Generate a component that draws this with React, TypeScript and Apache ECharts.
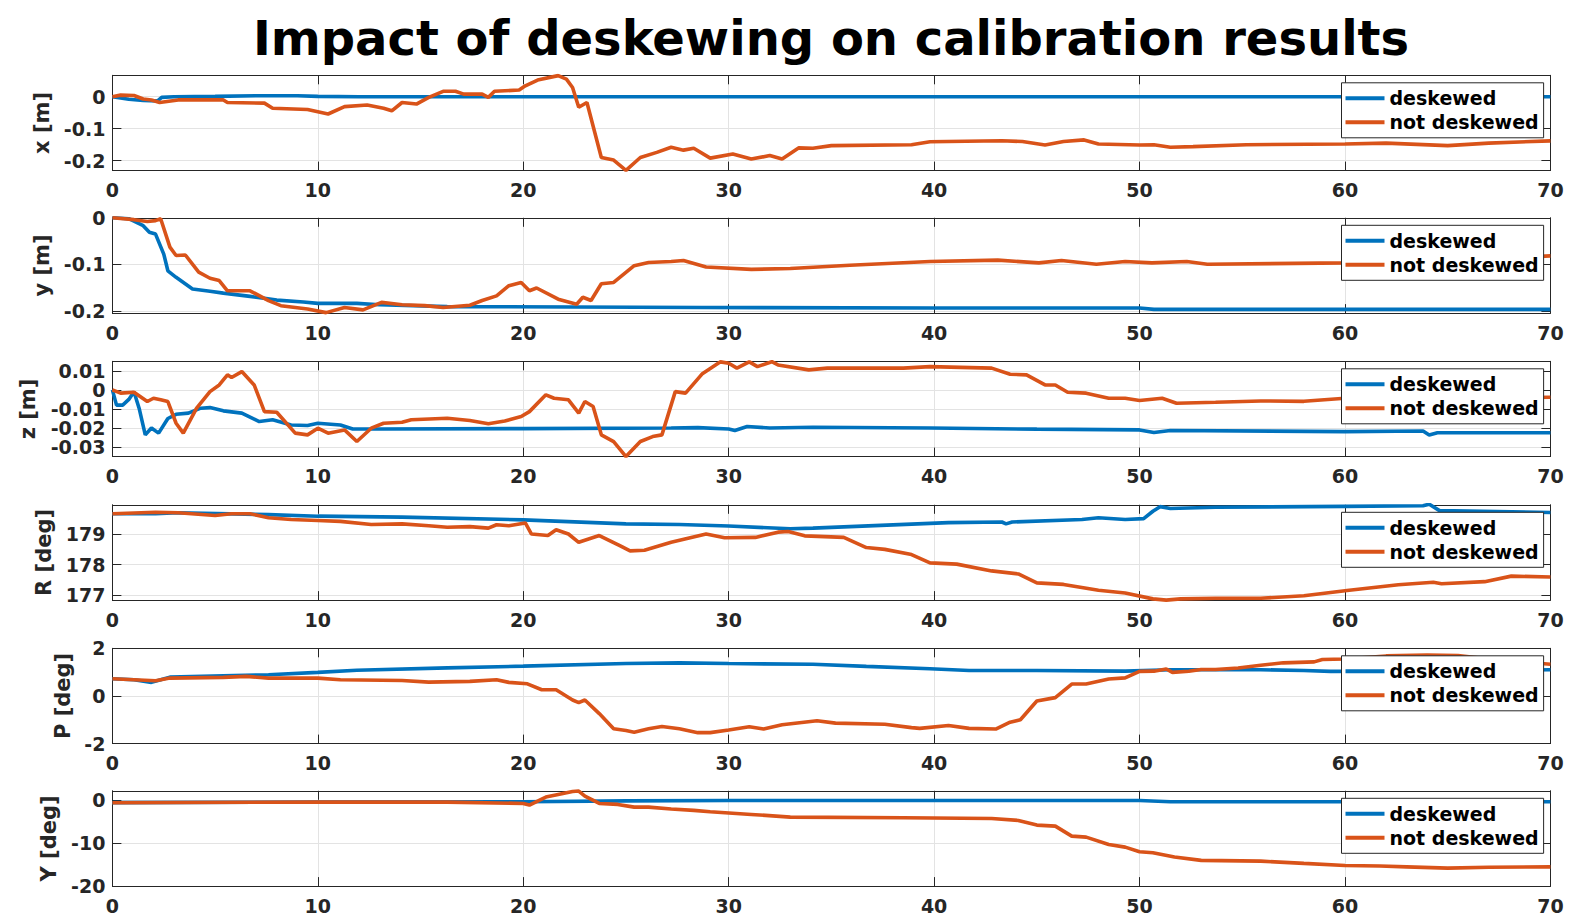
import React, { useEffect, useRef } from "react";
import * as echarts from "echarts";

const TITLE = "Impact of deskewing on calibration results";
const SERIES_NAMES = ["deskewed", "not deskewed"];
const Y_NAMES = ["x [m]", "y [m]", "z [m]", "R [deg]", "P [deg]", "Y [deg]"];
const Y_TICKS = [
  [-0.2, -0.1, 0],
  [-0.2, -0.1, 0],
  [-0.03, -0.02, -0.01, 0, 0.01],
  [177, 178, 179],
  [-2, 0, 2],
  [-20, -10, 0],
];
const Y_MIN = [-0.231, -0.205, -0.035, 176.85, -2, -20];
const Y_MAX = [0.067, 0, 0.015, 179.95, 2, 2.25];
const T_MIN = 0;
const T_MAX = 70;
const T_STEP = 10;

const X_DESK: [number, number][] = [
  [0, 0], [0.8, -0.008], [1.5, -0.012], [2.2, -0.013], [2.4, -0.002], [3, 0], [5, 0.001],
  [7, 0.003], [9, 0.003], [10, 0.001], [12, 0], [15, 0], [20, 0], [30, 0], [40, 0],
  [50, 0], [60, 0], [70, 0],
];
const X_NOT: [number, number][] = [
  [0, 0], [0.4, 0.005], [1.05, 0.004], [1.5, -0.007], [1.9, -0.01], [2.3, -0.018], [3.2, -0.01],
  [5.4, -0.01], [5.6, -0.018], [7.4, -0.02], [7.8, -0.036], [9.5, -0.04], [10.5, -0.054],
  [11.3, -0.031], [12.4, -0.026], [13.2, -0.036], [13.6, -0.044], [14.1, -0.018], [14.8, -0.023],
  [15.4, -0.002], [16.1, 0.017], [16.7, 0.017], [17.1, 0.008], [18, 0.008], [18.3, -0.002],
  [18.6, 0.017], [19.8, 0.021], [20.1, 0.034], [20.7, 0.052], [21.7, 0.066], [22.1, 0.055],
  [22.4, 0.029], [22.7, -0.033], [23.1, -0.018], [23.8, -0.19], [24.4, -0.198], [25, -0.23],
  [25.7, -0.19], [26.5, -0.174], [27.2, -0.158], [27.8, -0.167], [28.3, -0.161], [29.1, -0.192],
  [30.2, -0.179], [31.1, -0.195], [32, -0.184], [32.6, -0.195], [33.4, -0.16], [34.1, -0.161],
  [35, -0.153], [38.9, -0.15], [39.8, -0.141], [43.3, -0.1375], [44.3, -0.14], [45.4, -0.151],
  [46.3, -0.14], [47.3, -0.135], [48, -0.148], [50, -0.151], [50.7, -0.15], [51.5, -0.158],
  [52.6, -0.156], [55.2, -0.15], [60, -0.148], [62, -0.145], [65, -0.153], [67, -0.145],
  [70, -0.138],
];

const Y_DESK: [number, number][] = [
  [0, 0], [0.8, -0.002], [1.5, -0.017], [1.8, -0.031], [2.1, -0.035], [2.5, -0.078],
  [2.7, -0.114], [3.1, -0.128], [3.9, -0.153], [4.75, -0.158], [5.4, -0.162], [6.7, -0.169],
  [8, -0.177], [9.3, -0.181], [10, -0.184], [11.9, -0.184], [13, -0.187], [16.3, -0.191],
  [28.7, -0.193], [40, -0.194], [50, -0.194], [50.7, -0.197], [70, -0.197],
];
const Y_NOT: [number, number][] = [
  [0, 0], [1.05, -0.004], [1.7, -0.008], [2.1, -0.006], [2.35, -0.002], [2.8, -0.063],
  [3.1, -0.081], [3.55, -0.08], [4.2, -0.117], [4.75, -0.13], [5.2, -0.135], [5.6, -0.157],
  [6.7, -0.157], [7.6, -0.178], [8.2, -0.189], [9.5, -0.196], [10.4, -0.204], [11.3, -0.193],
  [12.2, -0.198], [13.1, -0.182], [14.1, -0.187], [15.2, -0.189], [16.1, -0.193], [17.4, -0.188],
  [18, -0.178], [18.7, -0.168], [19.3, -0.146], [19.9, -0.139], [20.3, -0.157], [20.65, -0.151],
  [21.7, -0.175], [22.6, -0.186], [22.9, -0.171], [23.3, -0.178], [23.8, -0.142], [24.4, -0.139],
  [25.4, -0.103], [26.1, -0.096], [27.2, -0.094], [27.8, -0.092], [28.9, -0.106], [31.1, -0.111],
  [33, -0.109], [35.9, -0.102], [39.8, -0.094], [43.1, -0.091], [45.1, -0.097], [46.2, -0.092],
  [47.9, -0.1], [49.3, -0.094], [50.6, -0.097], [52.3, -0.094], [53.3, -0.1], [60, -0.097],
  [65, -0.092], [70, -0.082],
];

const Z_DESK: [number, number][] = [
  [0, 0], [0.2, -0.008], [0.5, -0.008], [0.8, -0.005], [1.05, -0.001], [1.3, -0.0096],
  [1.6, -0.0236], [1.9, -0.02], [2.25, -0.0227], [2.7, -0.015], [3.1, -0.0128], [3.7, -0.0122],
  [4.3, -0.0096], [4.75, -0.0093], [5.4, -0.011], [6.3, -0.0122], [7.15, -0.0166], [7.8, -0.0157],
  [8.7, -0.0184], [9.5, -0.0187], [10, -0.0175], [11.1, -0.0184], [11.7, -0.0205], [13, -0.0205],
  [20, -0.0203], [27.2, -0.02], [28.5, -0.0198], [30, -0.0205], [30.3, -0.0213], [30.9, -0.0192],
  [32, -0.02], [34.1, -0.0196], [39.8, -0.02], [45, -0.0206], [50, -0.021], [50.7, -0.0224],
  [51.5, -0.0213], [60, -0.0219], [63.8, -0.0216], [64.1, -0.0237], [64.5, -0.0225],
  [70, -0.0225],
];
const Z_NOT: [number, number][] = [
  [0, 0], [0.4, -0.0017], [1.05, -0.0012], [1.7, -0.0061], [2, -0.0044], [2.35, -0.0052],
  [2.7, -0.0061], [3.1, -0.0175], [3.45, -0.0227], [4.1, -0.0096], [4.75, -0.0009], [5.2, 0.0026],
  [5.6, 0.0079], [5.8, 0.0065], [6.3, 0.0096], [6.9, 0.0026], [7.4, -0.0114], [8, -0.0117],
  [8.9, -0.0227], [9.5, -0.0236], [10, -0.0201], [10.5, -0.0227], [11.3, -0.021], [11.9, -0.0271],
  [12.6, -0.0201], [13.2, -0.0175], [14.1, -0.017], [14.55, -0.0157], [16.3, -0.0149],
  [17.4, -0.0161], [18.3, -0.0178], [19.1, -0.0163], [19.9, -0.014], [20.3, -0.0114],
  [21.1, -0.0026], [21.5, -0.0044], [22.2, -0.0052], [22.7, -0.0122], [23, -0.0061],
  [23.4, -0.0087], [23.8, -0.0236], [24.4, -0.0271], [25, -0.035], [25.7, -0.0271],
  [26.3, -0.0245], [26.75, -0.0236], [27.4, -0.0009], [27.9, -0.0017], [28.7, 0.0083],
  [29.6, 0.0147], [30, 0.014], [30.4, 0.0114], [31, 0.0147], [31.4, 0.0122], [32.1, 0.0148],
  [32.4, 0.0131], [33.9, 0.0105], [34.8, 0.0114], [38.5, 0.0114], [39.8, 0.0122], [42.8, 0.0114],
  [43.7, 0.0082], [44.5, 0.0079], [45.4, 0.0026], [45.9, 0.0026], [46.5, -0.0012], [47.4, -0.0017],
  [48.5, -0.0044], [49.3, -0.0044], [50, -0.0056], [51.1, -0.0044], [51.8, -0.007], [53.7, -0.0065],
  [55.9, -0.0058], [58, -0.006], [60, -0.0044], [65, -0.0042], [70, -0.0039],
];

const R_DESK: [number, number][] = [
  [0, 179.66], [2.1, 179.66], [3.2, 179.69], [7.6, 179.63], [10, 179.58], [14.1, 179.55],
  [20, 179.46], [25, 179.33], [27.6, 179.31], [30, 179.26], [33, 179.17], [34.1, 179.19],
  [37.4, 179.28], [40.7, 179.37], [43.3, 179.39], [43.5, 179.33], [43.8, 179.39], [47.2, 179.47],
  [48, 179.53], [49.3, 179.47], [50.2, 179.5], [50.65, 179.74], [51, 179.89], [51.5, 179.83],
  [53.7, 179.87], [60, 179.9], [63.8, 179.92], [64.1, 179.97], [64.6, 179.76], [70, 179.7],
];
const R_NOT: [number, number][] = [
  [0, 179.66], [2.1, 179.71], [3.2, 179.69], [5, 179.6], [5.8, 179.66], [6.7, 179.66],
  [7.6, 179.53], [8.7, 179.47], [10, 179.44], [11.1, 179.41], [12.6, 179.31], [14.1, 179.33],
  [15.4, 179.27], [16.3, 179.22], [17.4, 179.24], [18.3, 179.19], [18.7, 179.3], [19.3, 179.27],
  [20.1, 179.36], [20.4, 179.0], [21.2, 178.95], [21.6, 179.14], [22.2, 179.0], [22.7, 178.73],
  [23.7, 178.95], [24.7, 178.62], [25.2, 178.45], [25.9, 178.47], [27.2, 178.73], [28.9, 179.0],
  [29.8, 178.88], [31.3, 178.89], [32.4, 179.06], [32.9, 179.08], [33.7, 178.94], [35.6, 178.89],
  [36.7, 178.56], [37.6, 178.5], [38.9, 178.33], [39.8, 178.06], [41.1, 178.02], [42.8, 177.8],
  [44.1, 177.7], [45, 177.41], [46.3, 177.36], [48, 177.17], [49.3, 177.08], [50.65, 176.89],
  [51.3, 176.85], [52, 176.89], [53.7, 176.91], [55.9, 176.91], [58, 176.99], [60.1, 177.16],
  [62.6, 177.35], [64.3, 177.43], [64.7, 177.38], [66.8, 177.45], [68.1, 177.63], [70, 177.6],
];

const P_DESK: [number, number][] = [
  [0, 0.72], [1.05, 0.68], [1.9, 0.57], [2.35, 0.68], [2.8, 0.79], [5.4, 0.85], [7.6, 0.89],
  [10, 0.99], [11.9, 1.08], [16.3, 1.18], [20, 1.25], [25, 1.36], [27.6, 1.39], [30, 1.36],
  [34.1, 1.33], [36.7, 1.24], [39.8, 1.14], [41.7, 1.07], [45, 1.07], [49.3, 1.04], [51.5, 1.1],
  [55.9, 1.1], [58, 1.07], [59.3, 1.03], [64, 1.04], [70, 1.1],
];
const P_NOT: [number, number][] = [
  [0, 0.72], [2.1, 0.64], [2.8, 0.75], [5.4, 0.78], [6.5, 0.82], [7.6, 0.75], [10, 0.75],
  [11.1, 0.68], [14.1, 0.65], [15.4, 0.58], [17.4, 0.61], [18.7, 0.68], [19.3, 0.57], [20.2, 0.51],
  [20.9, 0.26], [21.6, 0.26], [22.4, -0.17], [22.7, -0.28], [23, -0.17], [23.7, -0.74],
  [24.4, -1.38], [25, -1.45], [25.4, -1.52], [26.1, -1.38], [26.75, -1.28], [27.6, -1.38],
  [28.5, -1.54], [29.1, -1.54], [30, -1.43], [31, -1.29], [31.7, -1.39], [32.6, -1.21],
  [34.3, -1.04], [35.2, -1.14], [37.6, -1.19], [38.9, -1.33], [39.3, -1.36], [40.7, -1.24],
  [41.7, -1.36], [43, -1.39], [43.7, -1.1], [44.2, -1.0], [45, -0.21], [45.9, -0.07], [46.7, 0.5],
  [47.4, 0.5], [48.5, 0.71], [49.3, 0.76], [50, 1.03], [50.7, 1.04], [51.3, 1.13], [51.6, 0.99],
  [52.4, 1.04], [53, 1.11], [53.7, 1.11], [54.8, 1.17], [55.9, 1.29], [57, 1.39], [58.5, 1.43],
  [58.9, 1.53], [60, 1.55], [62, 1.68], [64, 1.72], [65.5, 1.7], [67, 1.55], [70, 1.33],
];

const YAW_DESK: [number, number][] = [
  [0, -0.5], [10, -0.4], [20, -0.3], [25, -0.1], [30, 0], [50, 0], [51.5, -0.3], [70, -0.3],
];
const YAW_NOT: [number, number][] = [
  [0, -0.54], [10, -0.39], [16.3, -0.39], [20, -0.7], [20.3, -1.09], [21.1, 0.78], [21.7, 1.4],
  [22.4, 2.1], [22.7, 2.2], [23, 1.0], [23.7, -0.7], [24.6, -0.93], [25.4, -1.56], [26.1, -1.56],
  [27.2, -2.0], [28.3, -2.33], [29.1, -2.65], [31.1, -3.27], [33, -3.89], [38.5, -4.05],
  [42.8, -4.2], [44.1, -4.67], [45, -5.76], [45.9, -5.99], [46.7, -8.33], [47.4, -8.56],
  [48.5, -10.27], [49.3, -10.9], [50, -11.98], [50.65, -12.2], [51.7, -13.2], [53, -14.0],
  [55.9, -14.16], [58, -14.7], [60, -15.2], [61.7, -15.3], [63, -15.5], [65, -15.8], [67, -15.6],
  [70, -15.5],
];

const PANELS = [
  [X_DESK, X_NOT],
  [Y_DESK, Y_NOT],
  [Z_DESK, Z_NOT],
  [R_DESK, R_NOT],
  [P_DESK, P_NOT],
  [YAW_DESK, YAW_NOT],
];

const COLORS = ["#0072BD", "#D95319"];
const FONT = "DejaVu Sans";
const AXIS_COLOR = "#262626";
const GRID_TOPS = [75.3, 217.8, 361.3, 504.8, 648.3, 790.8];
const GRID_H = 95.3;
const NAME_GAPS = [55, 56, 74, 56, 37, 53];

export default function App() {
  const ref = useRef<HTMLDivElement>(null);
  useEffect(() => {
    if (!ref.current) return;
    const chart = echarts.init(ref.current, undefined, { renderer: "svg" });
    const grids: any[] = [];
    const xAxes: any[] = [];
    const yAxes: any[] = [];
    const series: any[] = [];
    const legends: any[] = [];
    const tickLine = { lineStyle: { color: AXIS_COLOR, width: 1 } };
    PANELS.forEach((panel, i) => {
      grids.push({ left: 112.4, right: 22.6, top: GRID_TOPS[i], height: GRID_H });
      xAxes.push({
        gridIndex: i, type: "value", position: "bottom", min: T_MIN, max: T_MAX, interval: T_STEP,
        axisLine: { show: true, onZero: false, ...tickLine },
        axisTick: { show: true, inside: true, length: 9, ...tickLine },
        axisLabel: { fontSize: 19, fontWeight: "bold", color: AXIS_COLOR, fontFamily: FONT, margin: 10 },
        splitLine: { show: true, lineStyle: { color: "#e3e3e3", width: 1 } },
      });
      xAxes.push({
        gridIndex: i, type: "value", position: "top", min: T_MIN, max: T_MAX, interval: T_STEP,
        axisLine: { show: true, onZero: false, ...tickLine },
        axisTick: { show: true, inside: true, length: 9, ...tickLine },
        axisLabel: { show: false },
        splitLine: { show: false },
      });
      yAxes.push({
        gridIndex: i, type: "value", position: "left", min: Y_MIN[i], max: Y_MAX[i],
        name: Y_NAMES[i], nameLocation: "middle", nameGap: NAME_GAPS[i], nameRotate: 90,
        nameTextStyle: { fontSize: 21, fontWeight: "bold", color: AXIS_COLOR, fontFamily: FONT },
        axisLine: { show: true, onZero: false, ...tickLine },
        axisTick: { show: true, inside: true, length: 9, customValues: Y_TICKS[i], ...tickLine },
        axisLabel: { customValues: Y_TICKS[i], fontSize: 19, fontWeight: "bold", color: AXIS_COLOR, fontFamily: FONT, margin: 7 },
        splitLine: { show: true, lineStyle: { color: "#e3e3e3", width: 1 } },
      });
      yAxes.push({
        gridIndex: i, type: "value", position: "right", min: Y_MIN[i], max: Y_MAX[i],
        axisLine: { show: true, onZero: false, ...tickLine },
        axisTick: { show: true, inside: true, length: 9, customValues: Y_TICKS[i], ...tickLine },
        axisLabel: { show: false },
        splitLine: { show: false },
      });
      panel.forEach((data, k) => {
        series.push({
          type: "line", name: SERIES_NAMES[k], xAxisIndex: 2 * i, yAxisIndex: 2 * i,
          data, showSymbol: false, symbol: "none", smooth: false,
          lineStyle: { color: COLORS[k], width: 3.6 }, itemStyle: { color: COLORS[k] },
          z: 3,
        });
      });
      legends.push({
        data: SERIES_NAMES, orient: "vertical", left: 1341.5, top: GRID_TOPS[i] + 7.5,
        icon: "rect", itemWidth: 39, itemHeight: 4, itemGap: 5, padding: [6, 5, 6, 4],
        backgroundColor: "#ffffff", borderColor: AXIS_COLOR, borderWidth: 1, borderRadius: 0,
        selectedMode: false,
        textStyle: { fontSize: 19, fontWeight: "bold", color: "#000", fontFamily: FONT },
        z: 10,
      });
    });
    chart.setOption({
      animation: false,
      backgroundColor: "#ffffff",
      textStyle: { fontFamily: FONT },
      grid: grids,
      xAxis: xAxes,
      yAxis: yAxes,
      series,
      legend: legends,
      graphic: [
        {
          type: "text", x: 831, y: 38, z: 10,
          style: {
            text: TITLE, fill: "#000", font: `bold 48px "${FONT}"`,
            textAlign: "center", textVerticalAlign: "middle",
          },
        },
      ],
    });
    return () => chart.dispose();
  }, []);
  return <div ref={ref} style={{ position: "fixed", left: 0, top: 0, width: 1573, height: 919 }} />;
}
